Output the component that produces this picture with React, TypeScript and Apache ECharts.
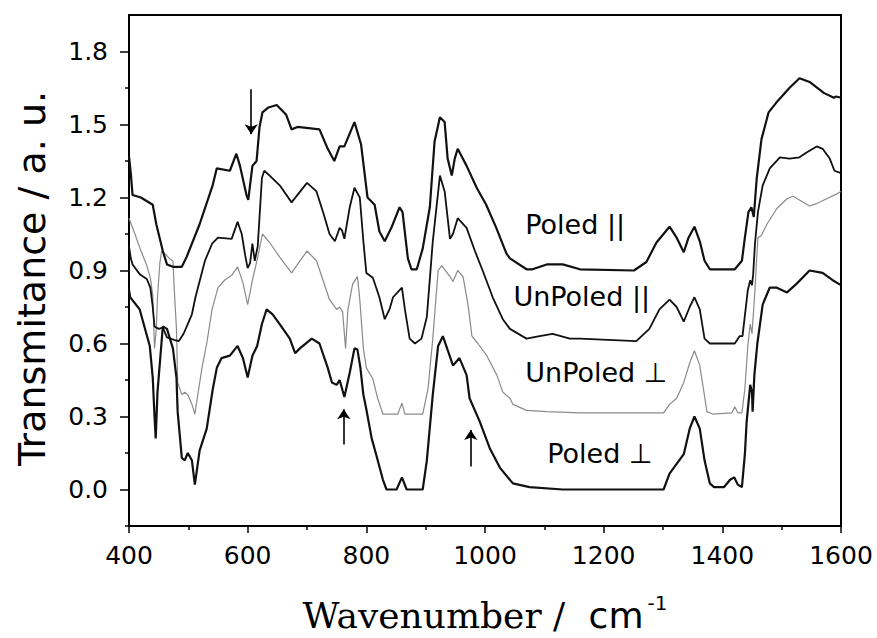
import React, { useEffect, useRef } from "react";
import * as echarts from "echarts";

// Wavenumber (cm^-1), transmittance (a.u.)
const poledPar: [number, number][] = [
  [400, 1.37], [403, 1.3], [406, 1.21], [420, 1.2], [440, 1.17], [446, 1.09], [457, 0.98], [464, 0.925],
  [474, 0.915], [489, 0.915], [497, 0.955], [519, 1.09], [541, 1.25], [548, 1.32], [570, 1.31], [581, 1.38],
  [587, 1.33], [598, 1.21], [601, 1.19], [608, 1.33], [615, 1.35], [620, 1.49], [625, 1.55], [635, 1.57],
  [649, 1.58], [665, 1.54], [674, 1.48], [684, 1.49], [721, 1.48], [735, 1.4], [746, 1.35], [755, 1.41],
  [763, 1.41], [780, 1.51], [791, 1.42], [797, 1.3], [802, 1.2], [814, 1.17], [822, 1.06], [831, 1.02],
  [843, 1.08], [856, 1.16], [861, 1.14], [870, 0.95], [876, 0.905], [885, 0.905], [895, 0.99], [907, 1.16],
  [915, 1.43], [924, 1.53], [932, 1.51], [937, 1.36], [944, 1.29], [949, 1.36], [954, 1.4], [969, 1.33],
  [986, 1.24], [1002, 1.17], [1019, 1.075], [1036, 0.97], [1042, 0.95], [1070, 0.905], [1080, 0.905],
  [1104, 0.925], [1131, 0.925], [1160, 0.905], [1251, 0.9], [1272, 0.935], [1289, 1.015], [1311, 1.08],
  [1323, 1.035], [1335, 0.975], [1343, 1.035], [1353, 1.08], [1362, 1.02], [1370, 0.94], [1379, 0.905],
  [1421, 0.905], [1433, 0.94], [1438, 1.035], [1444, 1.14], [1449, 1.16], [1453, 1.12], [1458, 1.28],
  [1466, 1.44], [1478, 1.55], [1491, 1.59], [1513, 1.65], [1530, 1.69], [1547, 1.675], [1571, 1.63],
  [1588, 1.61], [1592, 1.615], [1600, 1.61],
];

const unpoledPar: [number, number][] = [
  [400, 1.0], [403, 0.95], [406, 0.925], [418, 0.885], [430, 0.865], [436, 0.83], [440, 0.75], [443, 0.67],
  [450, 0.66], [457, 0.665], [464, 0.625], [476, 0.615], [484, 0.61], [492, 0.64], [499, 0.68], [506, 0.72],
  [512, 0.79], [528, 0.94], [540, 1.01], [550, 1.035], [573, 1.03], [583, 1.1], [590, 1.05], [596, 0.96],
  [600, 0.91], [604, 0.93], [608, 1.01], [612, 0.94], [617, 1.0], [624, 1.28], [628, 1.31], [637, 1.29],
  [654, 1.25], [674, 1.18], [700, 1.26], [716, 1.225], [727, 1.14], [738, 1.05], [747, 1.02], [755, 1.075],
  [759, 1.065], [763, 1.03], [772, 1.16], [780, 1.24], [789, 1.2], [795, 1.02], [800, 0.89], [811, 0.87],
  [822, 0.79], [831, 0.7], [839, 0.74], [845, 0.79], [860, 0.83], [865, 0.74], [873, 0.62], [882, 0.6],
  [893, 0.62], [902, 0.71], [912, 1.02], [924, 1.29], [932, 1.225], [941, 1.03], [946, 1.05], [954, 1.115],
  [969, 1.075], [983, 0.98], [996, 0.9], [1013, 0.79], [1030, 0.7], [1042, 0.66], [1070, 0.62], [1092, 0.63],
  [1114, 0.64], [1143, 0.62], [1160, 0.62], [1255, 0.61], [1277, 0.66], [1294, 0.74], [1311, 0.78],
  [1323, 0.75], [1335, 0.69], [1345, 0.75], [1353, 0.79], [1362, 0.74], [1370, 0.62], [1379, 0.6],
  [1421, 0.6], [1429, 0.63], [1434, 0.63], [1443, 0.82], [1447, 0.86], [1450, 0.84], [1452, 0.885],
  [1455, 1.01], [1460, 1.14], [1468, 1.25], [1480, 1.32], [1497, 1.365], [1513, 1.36], [1530, 1.365],
  [1542, 1.385], [1559, 1.41], [1569, 1.4], [1581, 1.36], [1589, 1.31], [1600, 1.3],
];

const unpoledPerp: [number, number][] = [
  [400, 1.115], [410, 1.05], [418, 0.995], [430, 0.92], [436, 0.87], [440, 0.8], [443, 0.58], [446, 0.66],
  [448, 0.79], [452, 0.93], [455, 0.98], [462, 0.965], [470, 0.945], [474, 0.94], [477, 0.79], [480, 0.66],
  [482, 0.44], [489, 0.39], [494, 0.4], [499, 0.39], [506, 0.35], [511, 0.31], [516, 0.39], [523, 0.5],
  [531, 0.6], [540, 0.74], [550, 0.83], [561, 0.86], [573, 0.88], [583, 0.915], [592, 0.85], [600, 0.76],
  [608, 0.86], [617, 0.955], [625, 1.05], [637, 1.015], [654, 0.955], [674, 0.89], [700, 0.98], [716, 0.94],
  [727, 0.86], [738, 0.78], [750, 0.74], [755, 0.75], [760, 0.73], [765, 0.58], [769, 0.74], [777, 0.845],
  [785, 0.875], [789, 0.78], [795, 0.58], [800, 0.5], [811, 0.455], [819, 0.375], [828, 0.31], [853, 0.31],
  [860, 0.355], [865, 0.31], [895, 0.31], [904, 0.415], [912, 0.62], [921, 0.9], [927, 0.92], [941, 0.875],
  [946, 0.855], [954, 0.9], [963, 0.875], [971, 0.765], [978, 0.63], [988, 0.6], [1003, 0.55], [1020, 0.47],
  [1030, 0.4], [1042, 0.375], [1047, 0.35], [1070, 0.325], [1104, 0.32], [1160, 0.315], [1301, 0.315],
  [1311, 0.35], [1323, 0.375], [1335, 0.44], [1345, 0.52], [1353, 0.57], [1362, 0.51], [1368, 0.415],
  [1374, 0.32], [1384, 0.31], [1416, 0.315], [1421, 0.34], [1426, 0.315], [1433, 0.315], [1438, 0.415],
  [1443, 0.59], [1447, 0.68], [1450, 0.64], [1455, 0.82], [1458, 0.955], [1460, 1.035], [1466, 1.045],
  [1475, 1.09], [1492, 1.155], [1509, 1.195], [1519, 1.205], [1530, 1.19], [1547, 1.165], [1559, 1.175],
  [1576, 1.195], [1593, 1.215], [1600, 1.225],
];

const poledPerp: [number, number][] = [
  [400, 0.82], [402, 0.79], [418, 0.74], [435, 0.59], [440, 0.46], [443, 0.3], [445, 0.21], [448, 0.4],
  [452, 0.52], [457, 0.67], [464, 0.66], [474, 0.58], [480, 0.46], [482, 0.32], [489, 0.13], [494, 0.12],
  [499, 0.15], [506, 0.12], [511, 0.02], [519, 0.16], [531, 0.25], [541, 0.41], [548, 0.5], [556, 0.54],
  [570, 0.55], [583, 0.59], [592, 0.54], [600, 0.46], [608, 0.55], [616, 0.59], [624, 0.68], [632, 0.74],
  [642, 0.72], [654, 0.68], [671, 0.62], [680, 0.56], [688, 0.58], [708, 0.62], [721, 0.6], [735, 0.5],
  [742, 0.44], [750, 0.43], [755, 0.45], [763, 0.38], [772, 0.48], [780, 0.58], [785, 0.575], [790, 0.5],
  [795, 0.39], [800, 0.33], [809, 0.21], [817, 0.14], [828, 0.04], [834, 0.0], [851, 0.0], [860, 0.05],
  [868, 0.0], [895, 0.0], [902, 0.12], [912, 0.39], [921, 0.59], [929, 0.63], [946, 0.51], [957, 0.54],
  [969, 0.47], [974, 0.375], [991, 0.28], [1008, 0.17], [1025, 0.09], [1047, 0.025], [1075, 0.01],
  [1131, 0.0], [1301, 0.0], [1311, 0.065], [1323, 0.105], [1335, 0.145], [1345, 0.25], [1353, 0.3],
  [1362, 0.25], [1370, 0.12], [1379, 0.025], [1386, 0.01], [1403, 0.01], [1413, 0.04], [1420, 0.05],
  [1426, 0.02], [1433, 0.01], [1438, 0.145], [1441, 0.28], [1447, 0.43], [1450, 0.4], [1451, 0.32],
  [1454, 0.47], [1459, 0.6], [1468, 0.76], [1480, 0.83], [1491, 0.83], [1509, 0.81], [1525, 0.845],
  [1547, 0.9], [1569, 0.89], [1586, 0.86], [1600, 0.84],
];

const yTickValues = [0, 0.3, 0.6, 0.9, 1.2, 1.5, 1.8];
const yMinorTickValues = [-0.15, 0.15, 0.45, 0.75, 1.05, 1.35, 1.65];

const curveLabels = [
  { name: "Poled ||", value: [1067, 1.087] },
  { name: "UnPoled ||", value: [1047, 0.792] },
  { name: "UnPoled \u22a5", value: [1067, 0.479] },
  { name: "Poled \u22a5", value: [1104, 0.15] },
];

const arrows: { coords: [number, number][] }[] = [
  { coords: [[606, 1.645], [606, 1.46]] },
  { coords: [[762, 0.185], [762, 0.33]] },
  { coords: [[976, 0.095], [976, 0.245]] },
];

export default function App() {
  const ref = useRef<HTMLDivElement>(null);
  useEffect(() => {
    if (!ref.current) return;
    const chart = echarts.init(ref.current, undefined, { renderer: "svg" });
    const black = "#000000";
    chart.setOption({
      animation: false,
      backgroundColor: "#ffffff",
      grid: {
        left: 129,
        right: 36,
        top: 15,
        bottom: 105,
        show: true,
        borderColor: black,
        borderWidth: 2,
        backgroundColor: "transparent",
      },
      xAxis: {
        type: "value",
        min: 400,
        max: 1600,
        interval: 200,
        axisLine: { show: true, onZero: false, lineStyle: { color: black, width: 2 } },
        axisTick: { show: true, inside: false, length: 7, lineStyle: { color: black, width: 1.5 } },
        minorTick: { show: true, splitNumber: 2, length: 4, lineStyle: { color: black, width: 1.5 } },
        splitLine: { show: false },
        axisLabel: {
          margin: 17,
          color: black,
          fontFamily: "DejaVu Sans",
          fontSize: 25,
          formatter: (v: number) => String(v),
        },
        name: "{a|Wavenumber / }{b|cm}{c|-1}",
        nameLocation: "middle",
        nameGap: 67,
        nameTextStyle: {
          rich: {
            a: { fontFamily: "DejaVu Serif", fontSize: 36, color: black, lineHeight: 44 },
            b: { fontFamily: "DejaVu Sans", fontSize: 36, color: black, lineHeight: 44, padding: [0, 0, 0, 12] },
            c: { fontFamily: "DejaVu Sans", fontSize: 20, color: black, lineHeight: 12, verticalAlign: "top", padding: [0, 0, 0, 4] },
          },
        },
      },
      yAxis: [
        {
          type: "value",
          min: -0.15,
          max: 1.95,
          axisLine: { show: true, onZero: false, lineStyle: { color: black, width: 2 } },
          axisTick: { show: true, inside: false, length: 9, customValues: yTickValues, lineStyle: { color: black, width: 1.5 } },
          splitLine: { show: false },
          axisLabel: {
            margin: 21,
            color: black,
            fontFamily: "DejaVu Sans",
            fontSize: 25,
            customValues: yTickValues,
            formatter: (v: number) => v.toFixed(1),
          },
          name: "Transmitance / a. u.",
          nameLocation: "middle",
          nameGap: 78,
          nameTextStyle: { fontFamily: "DejaVu Sans", fontSize: 38, color: black, padding: [0, 16, 0, 0] },
        },
        {
          type: "value",
          min: -0.15,
          max: 1.95,
          position: "left",
          axisLine: { show: false },
          axisTick: { show: true, inside: false, length: 4, customValues: yMinorTickValues, lineStyle: { color: black, width: 1.5 } },
          axisLabel: { show: false },
          splitLine: { show: false },
        },
      ],
      series: [
        {
          name: "UnPoled \u22a5",
          type: "line",
          data: unpoledPerp,
          showSymbol: false,
          symbol: "none",
          lineStyle: { color: "#8a8a8a", width: 1.2 },
          z: 2,
        },
        {
          name: "UnPoled ||",
          type: "line",
          data: unpoledPar,
          showSymbol: false,
          symbol: "none",
          lineStyle: { color: "#111111", width: 1.8 },
          z: 3,
        },
        {
          name: "Poled ||",
          type: "line",
          data: poledPar,
          showSymbol: false,
          symbol: "none",
          lineStyle: { color: "#111111", width: 2.2 },
          z: 3,
        },
        {
          name: "Poled \u22a5",
          type: "line",
          data: poledPerp,
          showSymbol: false,
          symbol: "none",
          lineStyle: { color: "#111111", width: 2.2 },
          z: 3,
        },
        {
          name: "labels",
          type: "scatter",
          data: curveLabels,
          symbolSize: 1,
          itemStyle: { color: "rgba(0,0,0,0)" },
          label: {
            show: true,
            position: "right",
            distance: 0,
            formatter: (p: any) => p.name,
            color: black,
            opacity: 1,
            textBorderWidth: 0,
            fontFamily: "DejaVu Sans",
            fontSize: 27,
          },
          emphasis: { disabled: true },
          z: 5,
        },
        {
          name: "arrows",
          type: "lines",
          coordinateSystem: "cartesian2d",
          data: arrows,
          symbol: ["none", "arrow"],
          symbolSize: 10,
          lineStyle: { color: black, width: 1.6, opacity: 1 },
          z: 5,
        },
      ],
    });
    return () => chart.dispose();
  }, []);
  return (
    <div
      ref={ref}
      style={{ position: "fixed", left: 0, top: 0, width: 877, height: 638, background: "#fff" }}
    />
  );
}
